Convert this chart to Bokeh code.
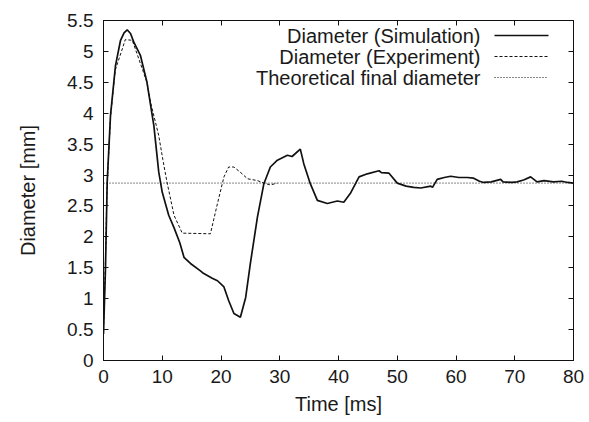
from bokeh.plotting import figure
from bokeh.models import LinearAxis, Range1d, Label, Arrow, FixedTicker, Span
from bokeh.embed import file_html
from bokeh.resources import INLINE

# ---- data ----
sim_t = [0, 0.34, 0.63, 1.19, 2.04, 2.9, 3.5, 4.03, 4.6, 5.16, 6.3, 7.4, 8.57, 9.4, 10.0, 11.1, 12.0,
         13.0, 13.7, 14.8, 16.5, 17.0, 18.5, 19.4, 20.5, 21.3, 22.2, 23.3, 24.2, 25.0,
         26.2, 27.3, 28.4, 29.6, 31.3, 32.1, 33.5, 34.1, 35.2, 36.4, 38.1, 39.8, 40.9,
         42.0, 43.5, 44.9, 46.9, 47.3, 48.6, 50.0, 51.5, 52.8, 54.0, 55.7, 56.0, 56.8,
         58.0, 59.1, 60.5, 61.9, 63.0, 64.0, 64.7, 66.0, 67.6, 68.0, 69.5, 70.4, 71.5,
         72.7, 73.8, 75.0, 76.6, 78.0, 79.0, 80.0]
sim_d = [0.43, 1.5, 2.89, 3.96, 4.77, 5.18, 5.3, 5.35, 5.29, 5.15, 4.93, 4.50, 3.80, 3.05, 2.72, 2.35, 2.15,
         1.9, 1.67, 1.57, 1.45, 1.41, 1.33, 1.29, 1.19, 0.97, 0.76, 0.70, 1.02, 1.57,
         2.32, 2.86, 3.13, 3.24, 3.32, 3.30, 3.42, 3.18, 2.86, 2.59, 2.54, 2.58, 2.56,
         2.70, 2.97, 3.02, 3.07, 3.04, 3.03, 2.87, 2.82, 2.80, 2.79, 2.82, 2.80, 2.93,
         2.96, 2.98, 2.96, 2.96, 2.95, 2.90, 2.88, 2.89, 2.93, 2.89, 2.88, 2.89, 2.92,
         2.97, 2.89, 2.91, 2.89, 2.90, 2.88, 2.87]

exp_t = [0, 0.3, 0.6, 1.2, 2.0, 3.2, 3.7, 4.9, 6.3, 7.4, 8.0, 9.4, 10.1, 10.8,
         12.0, 13.4, 18.2, 19.3, 20.5, 21.3, 22.2, 23.6, 24.5, 26.2, 27.3, 28.4, 29.6]
exp_d = [0.5, 1.5, 2.8, 3.95, 4.7, 5.04, 5.19, 5.18, 4.8, 4.5, 4.18, 3.64, 3.25, 2.89,
         2.35, 2.06, 2.05, 2.5, 2.97, 3.13, 3.13, 3.02, 2.94, 2.91, 2.87, 2.84, 2.87]

final_diameter = 2.87

x_ticks = [0, 10, 20, 30, 40, 50, 60, 70, 80]
y_ticks = [0, 0.5, 1, 1.5, 2, 2.5, 3, 3.5, 4, 4.5, 5, 5.5]
y_tick_labels = {0: "0", 0.5: "0.5", 1: "1", 1.5: "1.5", 2: "2", 2.5: "2.5", 3: "3",
                 3.5: "3.5", 4: "4", 4.5: "4.5", 5: "5", 5.5: "5.5"}

legend_labels = ["Diameter (Simulation)", "Diameter (Experiment)", "Theoretical final diameter"]

FONT = "Liberation Sans"
FS_TICK = "19px"
FS = "20px"
TXT = "#1a1a1a"
INK = "#111111"

W, H = 589, 422
p = figure(width=W, height=H, output_backend="svg", toolbar_location=None,
           x_range=Range1d(0, 80), y_range=Range1d(0, 5.5),
           min_border_left=103, min_border_right=16, min_border_top=20, min_border_bottom=62,
           x_axis_label="Time [ms]", y_axis_label="Diameter [mm]")
p.grid.visible = False
p.outline_line_color = INK
p.outline_line_width = 1
p.background_fill_color = "white"
p.border_fill_color = "white"

def style_axis(ax, ticks, show_labels):
    ax.ticker = FixedTicker(ticks=ticks)
    ax.minor_tick_line_color = None
    ax.major_tick_in = 5
    ax.major_tick_out = 0
    ax.major_tick_line_color = INK
    ax.axis_line_color = INK
    ax.major_label_text_font = FONT
    ax.major_label_text_color = TXT
    ax.axis_label_text_font = FONT
    ax.axis_label_text_color = TXT
    ax.axis_label_text_font_style = "normal"
    ax.axis_label_text_font_size = FS
    ax.major_label_text_font_size = FS_TICK
    if not show_labels:
        ax.major_label_overrides = {t: "" for t in ticks}
        ax.major_label_text_color = None
        ax.major_label_text_font_size = "2px"
        ax.major_label_standoff = 0

xa = p.xaxis[0]
ya = p.yaxis[0]
style_axis(xa, x_ticks, True)
style_axis(ya, y_ticks, True)
ya.major_label_overrides = y_tick_labels
xa.major_label_standoff = 9
xa.axis_label_standoff = 7
ya.major_label_standoff = 10
ya.axis_label_standoff = 25

top = LinearAxis()
right = LinearAxis()
style_axis(top, x_ticks, False)
style_axis(right, y_ticks, False)
p.add_layout(top, "above")
p.add_layout(right, "right")

p.line(sim_t, sim_d, line_color=INK, line_width=1.7)
p.line(exp_t, exp_d, line_color=INK, line_width=1, line_dash="3 2")
p.add_layout(Span(location=final_diameter, dimension="width", line_color=INK,
                  line_width=1, line_dash="1 2"))

# manual legend (text right-aligned, sample to the right); screen units relative to the frame
dashes = ["solid", "3 2", "1 2"]
widths = [1.3, 1, 1]
for i, (lab, dash, lw) in enumerate(zip(legend_labels, dashes, widths)):
    yy = 325 - 21 * i
    p.add_layout(Label(x=377, y=yy, x_units="screen", y_units="screen", text=lab,
                       text_align="right", text_baseline="middle", text_font=FONT,
                       text_font_size=FS, text_color=TXT))
    p.add_layout(Arrow(end=None, x_start=391, y_start=yy, x_end=445, y_end=yy,
                       start_units="screen", end_units="screen",
                       line_color=INK, line_width=lw, line_dash=dash))

open("out.html", "w").write(file_html(p, INLINE))
